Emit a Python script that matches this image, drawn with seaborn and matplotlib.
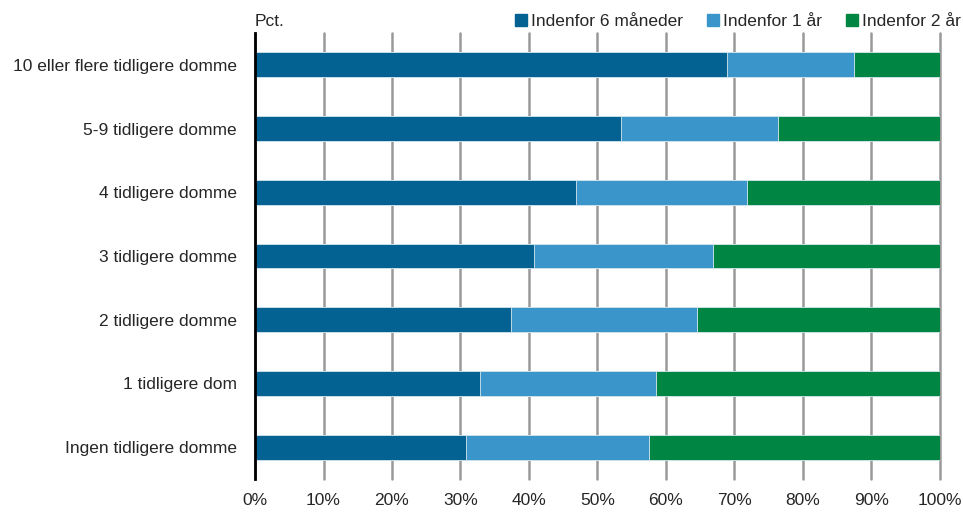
import numpy as np
import pandas as pd
import seaborn as sns
import matplotlib.pyplot as plt
from matplotlib.lines import Line2D

#------------------------------------------------------------------------------#
# Share of re-offenders (pct.) by number of previous convictions
#------------------------------------------------------------------------------#

categories = ['10 eller flere tidligere domme', '5-9 tidligere domme',
              '4 tidligere domme', '3 tidligere domme', '2 tidligere domme',
              '1 tidligere dom', 'Ingen tidligere domme']
within_6m  = [68.9, 53.4, 46.8, 40.8, 37.4, 32.8, 30.8]
within_1y  = [18.5, 23.0, 25.0, 26.0, 27.1, 25.8, 26.7]
within_2y  = [12.6, 23.6, 28.2, 33.2, 35.5, 41.4, 42.5]
series     = ['Indenfor 6 måneder', 'Indenfor 1 år', 'Indenfor 2 år']
xticks     = [0, 10, 20, 30, 40, 50, 60, 70, 80, 90, 100]

colors = ['#046293', '#3a96ca', '#008542']

def main():
    sns.set_theme(style='white')
    plt.rcParams['font.family'] = ['Liberation Sans Narrow', 'Liberation Sans',
                                   'DejaVu Sans']

    df = pd.DataFrame({'kategori': categories,
                       series[0]: within_6m,
                       series[1]: within_1y,
                       series[2]: within_2y})
    # cumulative sums for stacking
    df['c1'] = df[series[0]]
    df['c2'] = df['c1'] + df[series[1]]
    df['c3'] = df['c2'] + df[series[2]]

    fig = plt.figure(figsize=(9.63, 5.15), dpi=100)
    ax = fig.add_axes([0.2648, 0.070, 0.7113, 0.866])

    for col, c in zip(['c3', 'c2', 'c1'], colors[::-1]):
        sns.barplot(data=df, x=col, y='kategori', orient='h', color=c,
                    width=0.39, edgecolor='#d9e8f2', linewidth=0.6, ax=ax,
                    zorder=3, saturation=1)

    ax.set_xlim(0, 100)
    ax.set_ylim(6.5, -0.5)
    ax.set_xticks(xticks)
    ax.set_xticklabels(['%d%%' % t for t in xticks], fontsize=12.5)
    ax.tick_params(axis='y', labelsize=12.5, length=0, pad=13)
    ax.tick_params(axis='x', length=0, pad=10)
    ax.set_xlabel('')
    ax.set_ylabel('')
    ax.grid(axis='x', color='#999999', linewidth=1.8, zorder=0)
    for gl in ax.get_xgridlines():
        gl.set_clip_on(False)
    for s in ['top', 'right', 'bottom']:
        ax.spines[s].set_visible(False)
    ax.spines['left'].set_color('black')
    ax.spines['left'].set_linewidth(2)
    ax.spines['left'].set_zorder(5)

    fig.text(0.2648, 0.958, 'Pct.', fontsize=12.5, ha='left', va='center')

    handles = [Line2D([0], [0], marker='s', linestyle='', markersize=8,
                      markerfacecolor=c, markeredgecolor=c) for c in colors]
    fig.legend(handles, series, loc='center right', ncol=3, frameon=False,
               bbox_to_anchor=(1.005, 0.958), fontsize=12.5, handletextpad=0.1,
               columnspacing=1.2, handlelength=1.0, borderaxespad=0)

    plt.savefig('out.png', dpi=100)

if __name__ == '__main__':
    main()
